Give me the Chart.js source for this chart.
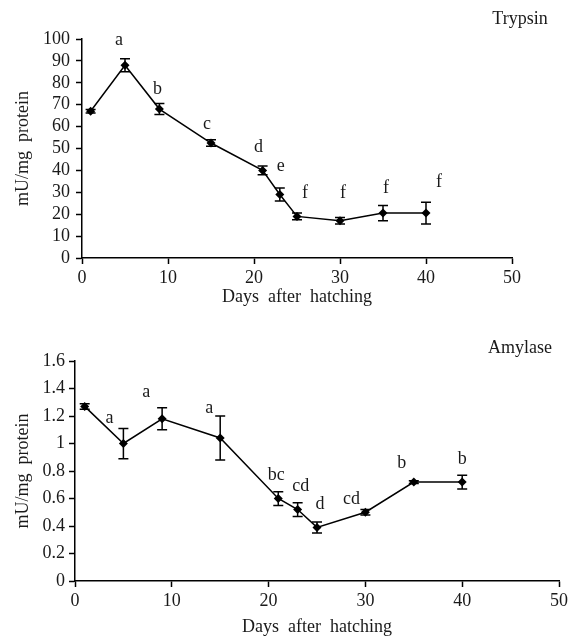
<!DOCTYPE html>
<html>
<head>
<meta charset="utf-8">
<script src="https://cdn.jsdelivr.net/npm/chart.js@4.4.1/dist/chart.umd.min.js"></script>
<style>
  body { margin: 0; background: #fff; }
  .panel { position: absolute; left: 0; }
</style>
</head>
<body>
<canvas id="trypsin" class="panel" width="571" height="310" style="top:0"></canvas>
<canvas id="amylase" class="panel" width="571" height="328" style="top:310px"></canvas>
<script>
// sampling days (days after hatching)
const days = [1, 5, 9, 15, 21, 23, 25, 30, 35, 40];

// trypsin activity, mU/mg protein, with standard error
const trypsin = [67, 88, 68, 52.5, 40, 29, 19, 17, 20.5, 20.5];
const trypsinErr = [0.8, 3, 2.5, 1.5, 2, 3, 1.5, 1.5, 3.5, 5];
const trypsinLetters = ['', 'a', 'b', 'c', 'd', 'e', 'f', 'f', 'f', 'f'];

// amylase activity, mU/mg protein, with standard error
const amylase = [1.27, 1.0, 1.18, 1.04, 0.6, 0.52, 0.39, 0.5, 0.72, 0.72];
const amylaseErr = [0.02, 0.11, 0.08, 0.16, 0.05, 0.05, 0.04, 0.02, 0.01, 0.05];
const amylaseLetters = ['', 'a', 'a', 'a', 'bc', 'cd', 'd', 'cd', 'b', 'b'];

const SERIF = "'Liberation Serif', 'Times New Roman', serif";
const INK = '#1a1a1a';

// error bars + significance letters + panel name
const extras = {
  id: 'extras',
  afterDatasetsDraw(chart, args, opts) {
    const ctx = chart.ctx;
    const xs = chart.scales.x, ys = chart.scales.y;
    ctx.save();
    ctx.strokeStyle = '#000';
    ctx.lineWidth = 1.5;
    opts.values.forEach((v, i) => {
      const px = xs.getPixelForValue(opts.days[i]);
      const top = ys.getPixelForValue(v + opts.err[i]);
      const bot = ys.getPixelForValue(v - opts.err[i]);
      ctx.beginPath();
      ctx.moveTo(px, top); ctx.lineTo(px, bot);
      ctx.moveTo(px - 5, top); ctx.lineTo(px + 5, top);
      ctx.moveTo(px - 5, bot); ctx.lineTo(px + 5, bot);
      ctx.stroke();
    });
    ctx.fillStyle = INK;
    ctx.font = '18px ' + SERIF;
    ctx.textAlign = 'center';
    ctx.textBaseline = 'middle';
    opts.letters.forEach((t, i) => {
      if (!t) return;
      const px = xs.getPixelForValue(opts.days[i]) + opts.shift[i][0];
      const py = ys.getPixelForValue(opts.values[i]) + opts.shift[i][1];
      ctx.fillText(t, px, py);
    });
    ctx.fillText(opts.name, opts.nameAt[0], opts.nameAt[1]);
    ctx.restore();
  }
};

function makeChart(id, values, err, letters, cfg) {
  new Chart(document.getElementById(id), {
    type: 'line',
    data: {
      datasets: [{
        data: days.map((d, i) => ({ x: d, y: values[i] })),
        borderColor: '#000',
        backgroundColor: '#000',
        borderWidth: 1.5,
        tension: 0,
        pointStyle: 'rectRot',
        pointRadius: 4.5,
        pointBorderWidth: 0
      }]
    },
    options: {
      responsive: false,
      animation: false,
      layout: { padding: cfg.padding },
      plugins: {
        legend: { display: false },
        tooltip: { enabled: false },
        extras: {
          days: days, values: values, err: err, letters: letters,
          shift: cfg.shift, name: cfg.name, nameAt: cfg.nameAt
        }
      },
      scales: {
        x: {
          type: 'linear',
          min: 0, max: 50,
          afterFit: s => { s.height = cfg.xHeight; },
          border: { color: '#000', width: 1.5 },
          grid: { drawOnChartArea: false, tickLength: 6, color: '#000', tickWidth: 1.5 },
          ticks: { stepSize: 10, maxRotation: 0, autoSkip: false, padding: 3, color: INK, font: { family: SERIF, size: 18 } },
          title: {
            display: true, text: 'Days  after  hatching', color: INK,
            font: { family: SERIF, size: 18 }, padding: { top: 0, bottom: cfg.xTitlePad }
          }
        },
        y: {
          min: 0, max: cfg.yMax,
          afterFit: s => { s.width = cfg.yWidth; },
          border: { color: '#000', width: 1.5 },
          grid: { drawOnChartArea: false, tickLength: 6, color: '#000', tickWidth: 1.5 },
          ticks: {
            stepSize: cfg.yStep, autoSkip: false, padding: cfg.yPad, color: INK,
            font: { family: SERIF, size: 18 },
            callback: v => String(Math.round(v * 10) / 10)
          },
          title: {
            display: true, text: 'mU/mg  protein', color: INK,
            font: { family: SERIF, size: 18 }, padding: { top: 12, bottom: 0 }
          }
        }
      }
    },
    plugins: [extras]
  });
}

makeChart('trypsin', trypsin, trypsinErr, trypsinLetters, {
  padding: { left: 0, right: 59, top: 39, bottom: 0 },
  yWidth: 82, xHeight: 52, yMax: 100, yStep: 10, yPad: 6, xTitlePad: 2,
  name: 'Trypsin', nameAt: [520, 19],
  shift: [[0, 0], [-6, -25], [-2, -20], [-4, -19], [-4, -23], [1, -28], [8, -23], [3, -28], [3, -25], [13, -31]]
});

makeChart('amylase', amylase, amylaseErr, amylaseLetters, {
  padding: { left: 0, right: 8, top: 51, bottom: 0 },
  yWidth: 75, xHeight: 57, yMax: 1.6, yStep: 0.2, yPad: 4, xTitlePad: 0,
  name: 'Amylase', nameAt: [520, 38],
  shift: [[0, 0], [-14, -25], [-16, -26], [-11, -30], [-2, -23], [3, -23], [3, -23], [-14, -13], [-12, -19], [0, -23]]
});
</script>
</body>
</html>
